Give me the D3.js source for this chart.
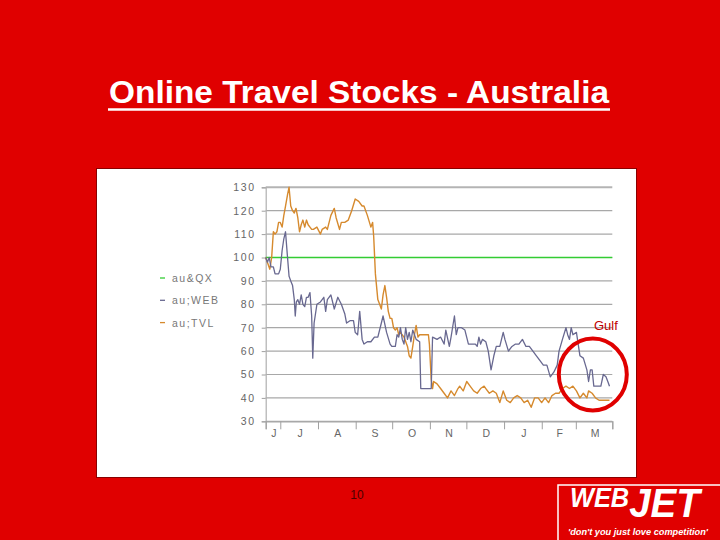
<!DOCTYPE html>
<html><head><meta charset="utf-8">
<script src="https://cdn.jsdelivr.net/npm/d3@7"></script>
<style>html,body{margin:0;padding:0;background:#e00000;}svg{display:block;}</style>
</head><body>
<svg id="c" width="720" height="540"></svg>
<script>
// ---- data ----
const startDate = new Date(2002, 5, 19);
const endDate = new Date(2003, 2, 31);
const monthLabels = ["J","J","A","S","O","N","D","J","F","M"];
const yTickValues = [30,40,50,60,70,80,90,100,110,120,130];
const seriesNames = ["au&QX","au;WEB","au;TVL"];
const qxDays = [0, 285];
const qxValues = [100, 100];
const webDays = [0,1.4,2.9,4.3,6.3,7.7,9.2,10.6,12.0,13.5,14.9,16.3,17.8,19.2,20.6,22.1,23.5,24.3,25.2,26.4,27.8,29.2,30.6,32.1,33.5,34.9,36.4,37.8,38.7,39.8,42.1,45.0,47.8,49.3,50.7,53.6,56.4,59.3,62.2,65.0,66.5,69.3,72.2,73.6,75.6,77.3,79.3,80.8,83.6,86.5,89.4,92.2,95.1,96.5,99.4,102.3,103.7,106.6,108.0,109.4,110.8,112.3,113.7,115.1,116.6,118.0,119.4,120.9,123.7,126.6,127.5,130.9,133.8,136.1,137.2,140.9,143.8,146.7,148.1,151.0,152.4,155.2,156.7,158.1,161.0,163.8,166.7,169.6,172.4,173.9,175.3,176.7,178.2,181.0,183.0,185.3,187.6,189.6,192.5,195.3,196.7,199.6,202.5,205.4,208.2,211.1,214.0,216.8,219.7,222.6,225.4,228.3,231.2,234.0,236.9,239.7,241.2,244.0,246.9,248.3,249.8,251.2,252.6,255.5,258.4,261.2,264.1,265.5,267.0,268.4,269.8,272.7,275.6,277.6,279.8,281.3,282.7];
const webValues = [100,98,100,96,96,93,93,93,95,103,108,111,101,92,90,88,82,75,81,82,80,84,80,79,83,83,85,75,57,72,80,81,83,77,82,84,78,83,80,76,72,73,73,68,67,77,65,63,64,64,66,66,72,75,68,63,62,62,67,66,70,65,63,70,65,68,64,69,65,64,44,44,44,44,66,65,66,63,69,62,66,75,67,70,70,69,63,63,63,62,66,63,65,64,60,52,58,62,62,68,65,60,62,63,63,65,62,62,60,58,56,54,54,49,51,54,60,65,70,67,65,70,67,68,58,57,52,47,52,52,45,45,45,50,49,47,45];
const tvlDays = [0,3.4,4.9,6.3,7.7,9.2,10.6,12.0,13.5,14.9,16.3,18.0,19.2,20.6,22.1,23.5,24.9,26.4,27.8,29.2,30.6,32.1,33.5,34.9,36.4,37.8,39.2,42.1,45.0,46.4,49.3,50.7,53.6,56.4,57.9,60.7,62.2,65.0,67.9,70.7,73.6,76.5,79.3,80.8,83.6,86.5,87.9,88.8,90.2,92.2,93.7,95.1,96.5,98.0,99.4,100.8,102.3,103.7,105.1,106.6,108.0,109.4,110.8,113.7,116.6,118.0,119.4,120.9,122.3,123.7,125.2,126.6,129.5,133.8,134.6,136.1,137.2,138.1,140.9,143.8,146.7,149.5,152.4,155.2,158.1,159.5,162.4,165.3,168.1,171.0,173.9,176.7,179.6,181.0,183.9,186.8,189.6,192.5,195.3,198.2,201.1,203.9,206.8,209.7,212.5,215.4,218.3,221.1,224.0,226.9,229.7,232.6,235.4,238.3,241.2,244.0,246.9,249.8,252.6,255.5,258.4,261.2,264.1,265.5,268.4,271.2,274.1,277.0,279.8,282.7];
const tvlValues = [100,95,100,111,110,111,115,115,113,118,122,127,130,122,120,119,121,117,111,114,116,113,116,114,113,112,112,113,110,112,113,112,118,121,117,112,115,115,116,120,125,124,122,122,118,113,115,109,93,82,80,78,84,88,83,77,74,74,70,69,70,67,68,66,62,58,57,62,67,71,66,67,67,67,63,48,44,47,46,44,42,40,43,41,44,45,43,47,45,43,42,44,45,44,42,43,42,38,43,39,38,40,41,40,38,39,36,40,40,38,40,38,41,42,42,44,45,44,45,43,40,42,40,43,42,40,39,39,39,39];

const colors = {qx:"#33cc33", web:"#686890", tvl:"#d68a2e"};

// ---- drawing ----
const svg = d3.select("#c");
svg.append("rect").attr("width",720).attr("height",540).attr("fill","#e00000");

// title
svg.append("text").attr("x",359).attr("y",103)
  .attr("text-anchor","middle").attr("fill","#fff")
  .attr("font-family","Liberation Sans, Arial, sans-serif").attr("font-weight","bold")
  .attr("font-size",31).attr("textLength",500).attr("lengthAdjust","spacingAndGlyphs")
  .text("Online Travel Stocks - Australia");
svg.append("line").attr("x1",108).attr("x2",610).attr("y1",109.5).attr("y2",109.5)
  .attr("stroke","#fff").attr("stroke-width",2.5);

// chart box
svg.append("rect").attr("x",96.5).attr("y",168.5).attr("width",540).attr("height",309)
  .attr("fill","#fff").attr("stroke","#8a0000").attr("stroke-width",1);

const plot = {l:265.7, r:612.3, t:187.3, b:421.3};
const x = d3.scaleTime().domain([startDate,endDate]).range([plot.l, plot.r]);
const y = d3.scaleLinear().domain([30,130]).range([plot.b, plot.t]);
const dayToDate = d => new Date(startDate.getTime() + d*864e5);

// gridlines
svg.append("g").selectAll("line").data(yTickValues).join("line")
  .attr("x1",plot.l).attr("x2",plot.r).attr("y1",d=>y(d)).attr("y2",d=>y(d))
  .attr("stroke",d=>d===130?"#b4b4b4":"#a8a8a8").attr("stroke-width",d=>d===130?2:1.2);

// y axis
const yAxis = d3.axisLeft(y).tickValues(yTickValues).tickSize(4).tickPadding(6);
const ya = svg.append("g").attr("transform",`translate(${plot.l},0)`).call(yAxis);
ya.select(".domain").attr("stroke","#b0b0b0").attr("stroke-width",1.2);
ya.selectAll(".tick line").attr("stroke","#a0a0a0");
ya.selectAll(".tick text").attr("fill","#666").attr("font-size",10.5)
  .attr("font-family","Liberation Sans, Arial, sans-serif").attr("letter-spacing","1.6px");

// x axis
const monthStarts = d3.timeMonth.range(d3.timeMonth.ceil(startDate), endDate);
const xTicks = [startDate, ...monthStarts, endDate];
const xAxis = d3.axisBottom(x).tickValues(xTicks).tickSize(8).tickFormat("");
const xa = svg.append("g").attr("transform",`translate(0,${plot.b})`).call(xAxis);
xa.select(".domain").attr("stroke","#a8a8a8").attr("stroke-width",1.2);
xa.selectAll(".tick line").attr("stroke","#a0a0a0");
svg.append("g").selectAll("text").data(monthLabels).join("text")
  .attr("x",(d,i)=>(x(xTicks[i])+x(xTicks[i+1]))/2 + 1)
  .attr("y",437).attr("text-anchor","middle").attr("fill","#666")
  .attr("font-family","Liberation Sans, Arial, sans-serif").attr("font-size",10.5)
  .text(d=>d);

// lines
const line = d3.line().x(d=>x(dayToDate(d[0]))).y(d=>y(d[1]));
const mk = (days, vals) => days.map((d,i)=>[d, vals[i]]);
svg.append("path").datum(mk(qxDays,qxValues)).attr("d",line)
  .attr("fill","none").attr("stroke",colors.qx).attr("stroke-width",1.3);
svg.append("path").datum(mk(tvlDays,tvlValues)).attr("d",line)
  .attr("fill","none").attr("stroke",colors.tvl).attr("stroke-width",1.4).attr("stroke-linejoin","round");
svg.append("path").datum(mk(webDays,webValues)).attr("d",line)
  .attr("fill","none").attr("stroke",colors.web).attr("stroke-width",1.3).attr("stroke-linejoin","round");

// legend
const legCols = [colors.qx, colors.web, colors.tvl];
const leg = svg.append("g").selectAll("g").data(seriesNames).join("g")
  .attr("transform",(d,i)=>`translate(160,${278 + i*22.3})`);
leg.append("line").attr("x1",0).attr("x2",5).attr("y1",0).attr("y2",0)
  .attr("stroke",(d,i)=>legCols[i]).attr("stroke-width",1.3);
leg.append("text").attr("x",12).attr("y",4).attr("fill","#777")
  .attr("font-family","Liberation Sans, Arial, sans-serif").attr("font-size",10.5)
  .attr("letter-spacing","1.5px").text(d=>d);

// Gulf annotation
svg.append("ellipse").attr("cx",592.8).attr("cy",374.5).attr("rx",34).attr("ry",36)
  .attr("fill","none").attr("stroke","#e00000").attr("stroke-width",4);
svg.append("text").attr("x",594).attr("y",330).attr("fill","#c00000")
  .attr("font-family","Liberation Sans, Arial, sans-serif").attr("font-size",13).text("Gulf");

// page number
svg.append("text").attr("x",357).attr("y",499).attr("text-anchor","middle")
  .attr("fill","#4d0000").attr("font-family","Liberation Sans, Arial, sans-serif")
  .attr("font-size",12).text("10");

// logo
const logo = svg.append("g");
logo.append("path").attr("d","M558,540 L558,485 L720,485").attr("fill","none")
  .attr("stroke","#ffffff").attr("stroke-width",1.5);
const brand = logo.append("g").attr("transform","translate(570,0) scale(0.94,1)")
  .append("text").attr("x",0).attr("y",507).attr("fill","#fff")
  .attr("font-family","Liberation Sans, Arial, sans-serif").attr("font-weight","bold")
  .attr("font-style","italic");
brand.append("tspan").attr("font-size",27).text("WEB");
brand.append("tspan").attr("font-size",41).attr("dy",10).text("JET");
logo.append("text").attr("x",568).attr("y",535).attr("fill","#fff")
  .attr("font-family","Liberation Sans, Arial, sans-serif").attr("font-weight","bold")
  .attr("font-style","italic").attr("font-size",9.5).attr("textLength",140)
  .attr("lengthAdjust","spacingAndGlyphs").text("'don't you just love competition'");
</script>
</body></html>
